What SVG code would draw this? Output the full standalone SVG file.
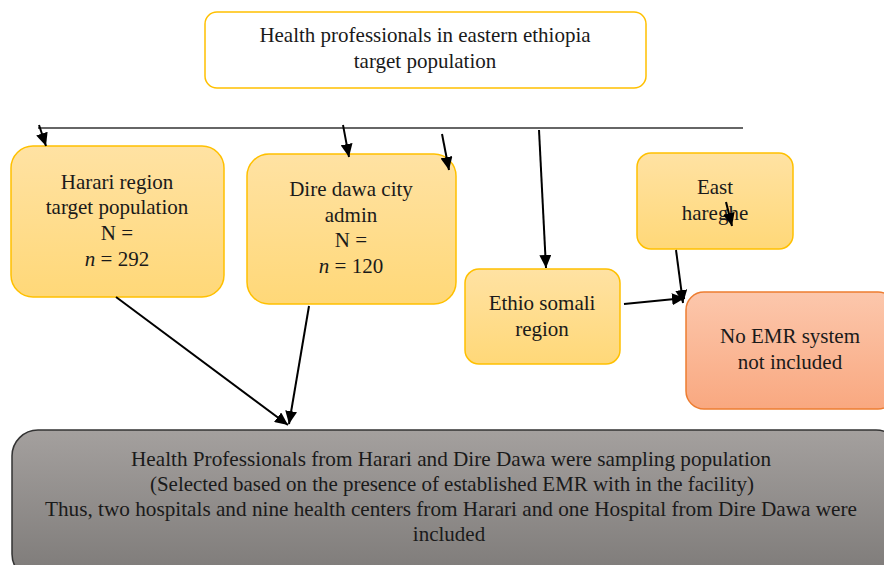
<svg xmlns="http://www.w3.org/2000/svg" width="884" height="565" viewBox="0 0 884 565">
<defs>
<linearGradient id="gy" x1="0" y1="0" x2="0" y2="1"><stop offset="0" stop-color="#FFE2A3"/><stop offset="1" stop-color="#FFD878"/></linearGradient>
<linearGradient id="go" x1="0" y1="0" x2="0" y2="1"><stop offset="0" stop-color="#FCC7AC"/><stop offset="1" stop-color="#F9A880"/></linearGradient>
<linearGradient id="gg" x1="0" y1="0" x2="0" y2="1"><stop offset="0" stop-color="#A4A09E"/><stop offset="1" stop-color="#7D7A78"/></linearGradient>
<marker id="ah" markerUnits="userSpaceOnUse" markerWidth="14" markerHeight="12" refX="13" refY="6" orient="auto"><path d="M0,0 L13,6 L0,12 Z" fill="#000"/></marker>
<style>
.t{font-family:"Liberation Serif","DejaVu Serif",serif;font-size:21px;fill:#1a1a1a;text-anchor:middle}
.y{fill:url(#gy);stroke:#FFC000;stroke-width:1.5}
.c{stroke:#000;stroke-width:2;fill:none}
</style>
</defs>
<g id="top">
<rect x="205" y="12" width="441" height="76" rx="12" fill="#fff" stroke="#FFC000" stroke-width="1.5"/>
<text class="t" x="425" y="42">Health professionals in eastern ethiopia</text>
<text class="t" x="425" y="68">target population</text>
</g>
<g id="harari">
<rect class="y" x="11" y="146" width="213" height="151" rx="22"/>
<text class="t" x="117" y="189">Harari region</text>
<text class="t" x="117" y="214">target population</text>
<text class="t" x="117" y="240">N =</text>
<text class="t" x="117" y="266"><tspan font-style="italic">n</tspan> = 292</text>
</g>
<g id="diredawa">
<rect class="y" x="247" y="154" width="209" height="150" rx="22"/>
<text class="t" x="351" y="196">Dire dawa city</text>
<text class="t" x="351" y="222">admin</text>
<text class="t" x="351" y="247">N =</text>
<text class="t" x="351" y="273"><tspan font-style="italic">n</tspan> = 120</text>
</g>
<g id="ethiosomali">
<rect class="y" x="465" y="269" width="155" height="95" rx="14"/>
<text class="t" x="542" y="310">Ethio somali</text>
<text class="t" x="542" y="336">region</text>
</g>
<g id="easthareghe">
<rect class="y" x="637" y="153" width="156" height="96" rx="14"/>
<text class="t" x="715" y="194">East</text>
<text class="t" x="715" y="220">hareghe</text>
</g>
<g id="noemr">
<rect x="686" y="292" width="210" height="117" rx="18" fill="url(#go)" stroke="#ED7D31" stroke-width="1.5"/>
<text class="t" x="790" y="343">No EMR system</text>
<text class="t" x="790" y="369">not included</text>
</g>
<g id="sampling">
<rect x="12" y="430" width="890" height="150" rx="26" fill="url(#gg)" stroke="#333" stroke-width="1.5"/>
<text class="t" x="451" y="466" textLength="640" lengthAdjust="spacingAndGlyphs">Health Professionals from Harari and Dire Dawa were sampling population</text>
<text class="t" x="452" y="491" textLength="604" lengthAdjust="spacingAndGlyphs">(Selected based on the presence of established EMR with in the facility)</text>
<text class="t" x="451" y="516" textLength="812" lengthAdjust="spacingAndGlyphs">Thus, two hospitals and nine health centers from Harari and one Hospital from Dire Dawa were</text>
<text class="t" x="449" y="541">included</text>
</g>
<g id="connectors">
<line x1="38" y1="128" x2="743" y2="128" stroke="#333" stroke-width="1.5"/>
<line class="c" x1="39" y1="125" x2="46" y2="146" marker-end="url(#ah)"/>
<line class="c" x1="343" y1="125" x2="349" y2="157" marker-end="url(#ah)"/>
<line class="c" x1="442" y1="134" x2="449" y2="170" marker-end="url(#ah)"/>
<line class="c" x1="539" y1="130" x2="546" y2="268" marker-end="url(#ah)"/>
<line class="c" x1="726" y1="202" x2="732" y2="226" marker-end="url(#ah)"/>
<line class="c" x1="676" y1="250" x2="683" y2="303" marker-end="url(#ah)"/>
<line class="c" x1="624" y1="304" x2="685" y2="298" marker-end="url(#ah)"/>
<line class="c" x1="116" y1="297" x2="288" y2="425" marker-end="url(#ah)"/>
<line class="c" x1="309" y1="306" x2="289" y2="424" marker-end="url(#ah)"/>
</g>
</svg>
